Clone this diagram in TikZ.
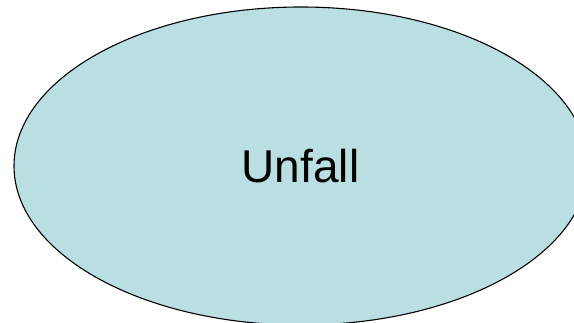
\documentclass[tikz,border=0pt]{standalone}
\usepackage{fontspec}
\setmainfont{Liberation Sans}
\usetikzlibrary{shapes.geometric}
\definecolor{ovalfill}{RGB}{185,223,227}
\tikzset{oval/.style={ellipse, draw=black, line width=1.1pt, fill=ovalfill, inner sep=0pt}}
\begin{document}
\begin{tikzpicture}[x=1pt,y=1pt]
\useasboundingbox (0,0) rectangle (574,-323);
\node[oval, minimum width=574pt, minimum height=318pt] (unfall) at (301,-166) {};
\node[font=\fontsize{46}{54}\selectfont, anchor=base] (lbl) at (300.5,-183) {Unfall};
\end{tikzpicture}
\end{document}
